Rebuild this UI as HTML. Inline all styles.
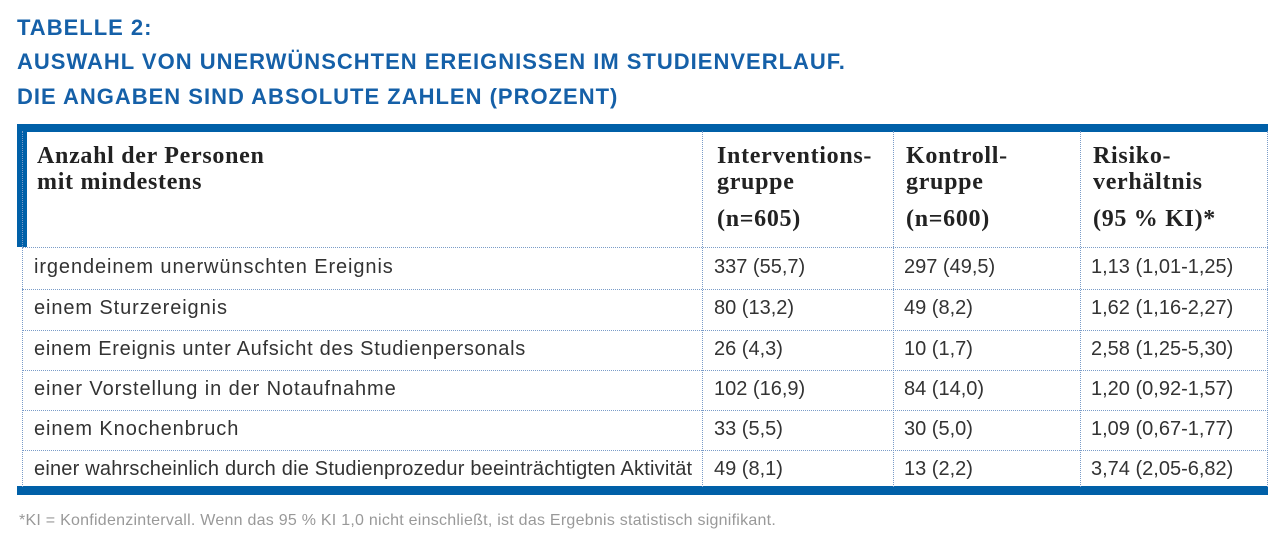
<!DOCTYPE html>
<html><head><meta charset="utf-8"><style>
*{margin:0;padding:0;box-sizing:border-box}
body{width:1280px;height:547px;background:#fff;position:relative;overflow:hidden;font-family:"Liberation Sans",sans-serif}
.t{position:absolute;left:17px;color:#1560a8;font-weight:bold;font-size:22px;white-space:nowrap;letter-spacing:1px}
.a{position:absolute;white-space:nowrap}
.h{font-family:"Liberation Serif",serif;font-weight:bold;font-size:24px;color:#222;line-height:26px;letter-spacing:0.7px}
.c{font-size:20px;color:#333;letter-spacing:0.9px}
.n{font-size:20px;color:#333;letter-spacing:0px}
.hl{position:absolute;left:22px;width:1246px;border-top:1px dotted #7a9cc8}
.vl{position:absolute;top:131px;height:356px;border-left:1px dotted #7a9cc8}
</style></head><body>
<div class="t" style="top:15px">TABELLE 2:</div>
<div class="t" style="top:49px">AUSWAHL VON UNERWÜNSCHTEN EREIGNISSEN IM STUDIENVERLAUF.</div>
<div class="t" style="top:84px">DIE ANGABEN SIND ABSOLUTE ZAHLEN (PROZENT)</div>

<div style="position:absolute;left:17px;top:124px;width:1251px;height:8px;background:#0060a8"></div>
<div style="position:absolute;left:17px;top:124px;width:10px;height:123px;background:#0060a8"></div>
<div style="position:absolute;left:17px;top:486px;width:1251px;height:9px;background:#0060a8"></div>

<div class="vl" style="left:22px"></div>
<div class="vl" style="left:702px"></div>
<div class="vl" style="left:893px"></div>
<div class="vl" style="left:1080px"></div>
<div class="vl" style="left:1267px"></div>
<div class="hl" style="top:247px"></div>
<div class="hl" style="top:289px"></div>
<div class="hl" style="top:330px"></div>
<div class="hl" style="top:370px"></div>
<div class="hl" style="top:410px"></div>
<div class="hl" style="top:450px"></div>

<div class="a h" style="left:37px;top:143px">Anzahl der Personen<br>mit mindestens</div>
<div class="a h" style="left:717px;top:143px">Interventions-<br>gruppe</div>
<div class="a h" style="left:717px;top:206px">(n=605)</div>
<div class="a h" style="left:906px;top:143px">Kontroll-<br>gruppe</div>
<div class="a h" style="left:906px;top:206px">(n=600)</div>
<div class="a h" style="left:1093px;top:143px">Risiko-<br>verhältnis</div>
<div class="a h" style="left:1093px;top:206px">(95 % KI)*</div>

<div class="a c" style="left:34px;top:256px">irgendeinem unerwünschten Ereignis</div>
<div class="a n" style="left:714px;top:256px">337 (55,7)</div>
<div class="a n" style="left:904px;top:256px">297 (49,5)</div>
<div class="a n" style="left:1091px;top:256px">1,13 (1,01-1,25)</div>

<div class="a c" style="left:34px;top:297px">einem Sturzereignis</div>
<div class="a n" style="left:714px;top:297px">80 (13,2)</div>
<div class="a n" style="left:904px;top:297px">49 (8,2)</div>
<div class="a n" style="left:1091px;top:297px">1,62 (1,16-2,27)</div>

<div class="a c" style="left:34px;top:338px;letter-spacing:0.7px">einem Ereignis unter Aufsicht des Studienpersonals</div>
<div class="a n" style="left:714px;top:338px">26 (4,3)</div>
<div class="a n" style="left:904px;top:338px">10 (1,7)</div>
<div class="a n" style="left:1091px;top:338px">2,58 (1,25-5,30)</div>

<div class="a c" style="left:34px;top:378px">einer Vorstellung in der Notaufnahme</div>
<div class="a n" style="left:714px;top:378px">102 (16,9)</div>
<div class="a n" style="left:904px;top:378px">84 (14,0)</div>
<div class="a n" style="left:1091px;top:378px">1,20 (0,92-1,57)</div>

<div class="a c" style="left:34px;top:418px">einem Knochenbruch</div>
<div class="a n" style="left:714px;top:418px">33 (5,5)</div>
<div class="a n" style="left:904px;top:418px">30 (5,0)</div>
<div class="a n" style="left:1091px;top:418px">1,09 (0,67-1,77)</div>

<div class="a c" style="left:34px;top:458px;letter-spacing:0.2px">einer wahrscheinlich durch die Studienprozedur beeinträchtigten Aktivität</div>
<div class="a n" style="left:714px;top:458px">49 (8,1)</div>
<div class="a n" style="left:904px;top:458px">13 (2,2)</div>
<div class="a n" style="left:1091px;top:458px">3,74 (2,05-6,82)</div>

<div class="a" style="left:19px;top:512px;font-size:16px;color:#999;letter-spacing:0.25px">*KI = Konfidenzintervall. Wenn das 95 % KI 1,0 nicht einschließt, ist das Ergebnis statistisch signifikant.</div>
</body></html>
